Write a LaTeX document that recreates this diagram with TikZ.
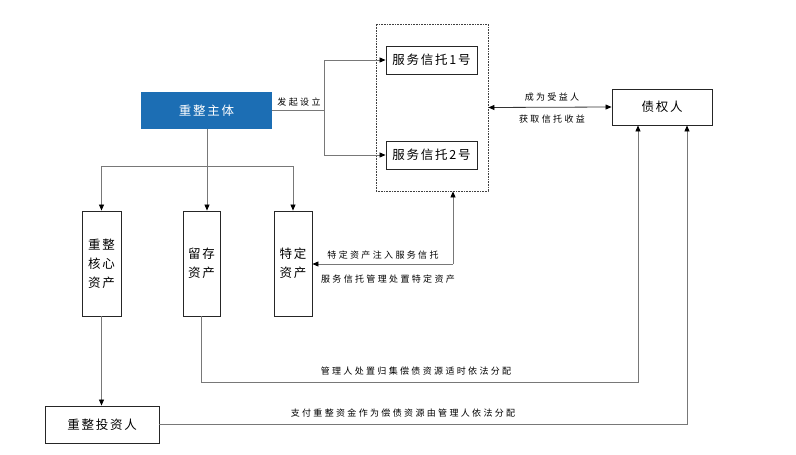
\documentclass[tikz,border=0pt]{standalone}
\usepackage{fontspec}
\setmainfont{Noto Sans CJK SC}
\newfontfamily\boxfont[LetterSpace=14]{Noto Sans CJK SC}
\newfontfamily\labfont[LetterSpace=26]{Noto Sans CJK SC}
\usetikzlibrary{arrows.meta}
\definecolor{mainblue}{RGB}{28,110,180}
\definecolor{linegray}{RGB}{120,120,120}
\tikzset{
  base/.style={draw=black!85, line width=0.9pt, inner sep=0pt, font=\boxfont\fontsize{12.5}{19}\selectfont, align=center},
  mainbox/.style={base, draw=none, fill=mainblue, text=white},
  groupbox/.style={draw=black!75, dash pattern=on 0.8pt off 0.8pt, line width=0.8pt, inner sep=0pt},
  lab/.style={font=\labfont\fontsize{9}{11}\selectfont, inner sep=0pt},
  line/.style={draw=linegray, line width=0.8pt},
  arr/.style={line, -{Triangle[length=6pt,width=5pt,color=black]}},
  dbl/.style={draw=black!80, line width=0.8pt, {Triangle[length=6pt,width=5pt,color=black]}-{Triangle[length=6pt,width=5pt,color=black]}},
}
\begin{document}
\begin{tikzpicture}[x=1pt,y=-1pt]
\useasboundingbox (0,0) rectangle (796,455);
\node[mainbox, minimum width=131pt, minimum height=37pt] (main) at (206.5,110.5) {重整主体};
\node[groupbox, minimum width=112pt, minimum height=167pt] (group) at (432,107.5) {};
\node[base, minimum width=91pt, minimum height=28pt] (t1) at (431.5,60) {服务信托1号};
\node[base, minimum width=91pt, minimum height=28pt] (t2) at (431.5,155) {服务信托2号};
\node[base, minimum width=100pt, minimum height=36pt] (cred) at (662,107) {债权人};
\node[base, minimum width=39pt, minimum height=105pt] (core) at (101.5,263.5) {重整\\核心\\资产};
\node[base, minimum width=37pt, minimum height=105pt] (retain) at (201.5,263.5) {留存\\资产};
\node[base, minimum width=38pt, minimum height=105pt] (special) at (293,263.5) {特定\\资产};
\node[base, minimum width=114pt, minimum height=37pt] (inv) at (102,424.5) {重整投资人};

% 发起设立
\coordinate (split) at (324,110.5);
\draw[line] (main.east) -- (split);
\draw[arr] (split) |- (t1.west);
\draw[arr] (split) |- (t2.west);
\node[lab] (l1) at (299,102) {发起设立};

% distribution from main
\coordinate (hub) at (207,166);
\draw[line] (main.south -| hub) -- (hub);
\draw[arr] (hub) -| (core.north);
\draw[arr] (hub) -| (special.north);
\draw[arr] (hub) -- (hub |- retain.north);

% beneficiary
\draw[dbl] (group.east) -- (cred.west);
\node[lab] (l2) at (552,97) {成为受益人};
\node[lab] (l3) at (552,119) {获取信托收益};

% special assets
\coordinate (c1) at (453,264);
\draw[arr] (c1) -- (c1 -| special.east);
\draw[arr] (c1) -- (c1 |- group.south);
\node[lab] (l4) at (383,255) {特定资产注入服务信托};
\node[lab] (l5) at (388,279) {服务信托管理处置特定资产};

% core -> investor
\draw[arr] (core.south) -- (core.south |- inv.north);

% retain -> creditor
\coordinate (r1) at (638,382);
\draw[arr] (retain.south) |- (r1) -- (r1 |- cred.south);
\node[lab] (l6) at (416,371) {管理人处置归集偿债资源适时依法分配};

% investor -> creditor
\coordinate (r2) at (687,424.5);
\draw[arr] (inv.east) -- (r2) -- (r2 |- cred.south);
\node[lab] (l7) at (403,413) {支付重整资金作为偿债资源由管理人依法分配};
\end{tikzpicture}
\end{document}
